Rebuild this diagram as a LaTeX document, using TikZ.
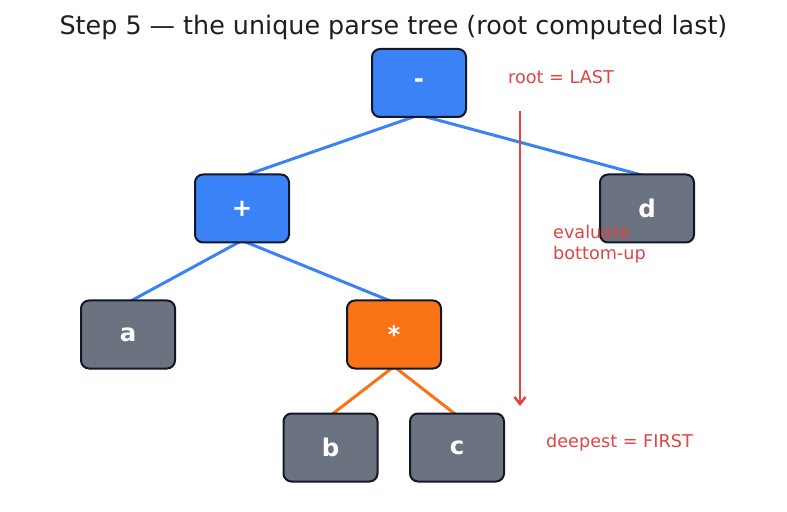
\documentclass[tikz,border=0pt]{standalone}
\usepackage{fontspec}
\setmainfont{DejaVu Sans}
\usetikzlibrary{arrows.meta,backgrounds}
\definecolor{nblue}{HTML}{3B82F6}
\definecolor{ngray}{HTML}{6B7280}
\definecolor{norange}{HTML}{F97316}
\definecolor{nborder}{HTML}{111827}
\definecolor{ared}{HTML}{E04545}
\definecolor{ttext}{HTML}{1F1F1F}
\tikzset{
  tnode/.style={draw=nborder, line width=2bp, rounded corners=8bp, minimum width=94bp, minimum height=68bp,
    text=white, font=\fontsize{24.5}{28}\selectfont\bfseries, inner sep=0pt},
  bluen/.style={tnode, fill=nblue},
  grayn/.style={tnode, fill=ngray},
  orangen/.style={tnode, fill=norange},
  bedge/.style={draw=nblue, line width=3bp},
  oedge/.style={draw=norange, line width=3bp},
  ann/.style={text=ared, font=\fontsize{17.7}{20.5}\selectfont, inner sep=0pt, anchor=west, align=left},
}
\begin{document}
\begin{tikzpicture}[x=1bp, y=-1bp]
\begin{scope}[on background layer]
\fill[white] (0,0) rectangle (787,512);
\end{scope}
\useasboundingbox (0,0) rectangle (787,512);
\node[text=ttext, font=\fontsize{25.5}{30}\selectfont, inner sep=0pt] (title) at (393.5,27.5) {Step 5 — the unique parse tree (root computed last)};
\node[bluen] (root) at (419,83) {-};
\node[bluen] (plus) at (242,208.5) {+};
\node[grayn] (d) at (647,208.5) {d};
\node[grayn] (a) at (128,334.5) {a};
\node[orangen] (star) at (394,334.5) {*};
\node[grayn] (b) at (330.5,447.5) {b};
\node[grayn] (c) at (457,447.5) {c};
\begin{scope}[on background layer]
\draw[bedge] ([yshift=3bp]root.south) -- ([yshift=-3bp]plus.north);
\draw[bedge] ([yshift=3bp]root.south) -- ([yshift=-3bp]d.north);
\draw[bedge] ([yshift=3bp]plus.south) -- ([yshift=-3bp]a.north);
\draw[bedge] ([yshift=3bp]plus.south) -- ([yshift=-3bp]star.north);
\draw[oedge] ([yshift=3bp]star.south) -- ([yshift=-3bp]b.north);
\draw[oedge] ([yshift=3bp]star.south) -- ([yshift=-3bp]c.north);
\end{scope}
\node[ann] (rootlbl) at (508,77.5) {root = LAST};
\node[ann] (evallbl) at (553,244) {evaluate\\bottom-up};
\node[ann] (deeplbl) at (546,442.5) {deepest = FIRST};
\coordinate (arrTop) at (520,111);
\coordinate (arrBot) at (520,406);
\draw[ared, line width=2.5bp, -{Straight Barb[length=7bp,width=11bp,line width=2.5bp]}] (arrTop) -- (arrBot);
\end{tikzpicture}
\end{document}
